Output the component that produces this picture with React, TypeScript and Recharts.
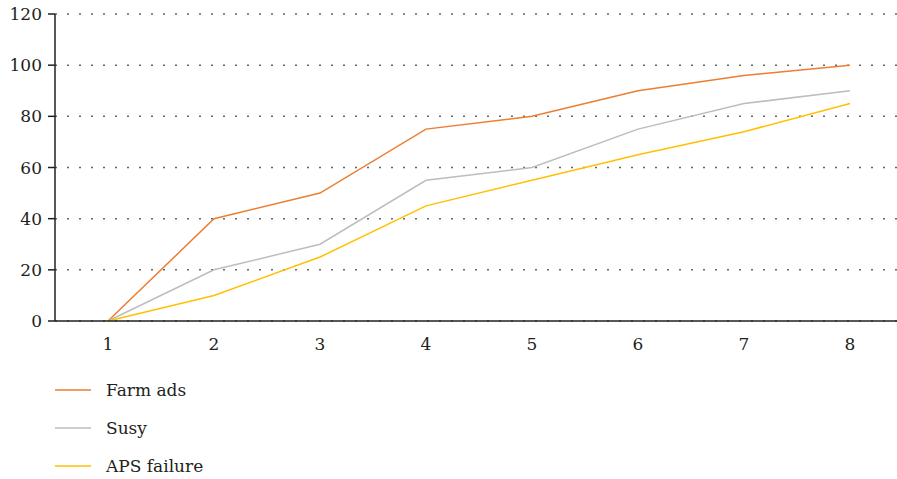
import React from 'react';
import { LineChart, Line, XAxis, YAxis, CartesianGrid, Legend } from 'recharts';

const categories = ['1', '2', '3', '4', '5', '6', '7', '8'];
const farmAds = [0, 40, 50, 75, 80, 90, 96, 100];
const susy = [0, 20, 30, 55, 60, 75, 85, 90];
const apsFailure = [0, 10, 25, 45, 55, 65, 74, 85];
const yTicks = [0, 20, 40, 60, 80, 100, 120];

const series = [
  { key: 'farmAds', name: 'Farm ads', color: '#ED7D31', values: farmAds },
  { key: 'susy', name: 'Susy', color: '#BDBDBD', values: susy },
  { key: 'apsFailure', name: 'APS failure', color: '#FFC000', values: apsFailure },
];

const data = categories.map((c, i) => {
  const row: Record<string, string | number> = { cat: c };
  series.forEach((s) => {
    row[s.key] = s.values[i];
  });
  return row;
});

const FONT = 'DejaVu Serif';
const INK = '#231F20';
const FONT_SIZE = 17;

// Vertical legend: a short coloured stroke followed by the series name.
const LegendBlock = () => (
  <div style={{ height: 128, paddingLeft: 55, paddingTop: 20, boxSizing: 'border-box', fontFamily: FONT }}>
    {series.map((s) => (
      <div key={s.key} style={{ display: 'flex', alignItems: 'center', height: 38 }}>
        <svg width={36} height={4} style={{ display: 'block' }}>
          <line x1={0} y1={2} x2={36} y2={2} stroke={s.color} strokeWidth={1.5} />
        </svg>
        <span style={{ marginLeft: 15, fontSize: FONT_SIZE, color: INK, whiteSpace: 'nowrap' }}>{s.name}</span>
      </div>
    ))}
  </div>
);

export default function App() {
  return (
    <div style={{ position: 'fixed', top: 0, left: 0, width: 897, height: 479, overflow: 'hidden', background: '#fff' }}>
      <LineChart width={897} height={479} data={data} margin={{ top: 14, right: 0, bottom: 0, left: 0 }} style={{ fontFamily: FONT }}>
        <CartesianGrid horizontal vertical={false} stroke="#666" strokeDasharray="2 10" strokeWidth={1.5} />
        <XAxis
          dataKey="cat"
          tickLine={false}
          tickSize={0}
          tickMargin={17}
          height={30}
          padding={{ left: 53, right: 47 }}
          axisLine={{ stroke: INK, strokeWidth: 1.5 }}
          tick={{ fill: INK, fontSize: FONT_SIZE, fontFamily: FONT }}
        />
        <YAxis
          width={55}
          domain={[0, 120]}
          ticks={yTicks}
          interval={0}
          tickSize={7}
          tickMargin={6}
          axisLine={{ stroke: INK, strokeWidth: 1.5 }}
          tickLine={{ stroke: INK, strokeWidth: 1.5 }}
          tick={{ fill: INK, fontSize: FONT_SIZE, fontFamily: FONT }}
        />
        <Legend verticalAlign="bottom" layout="horizontal" align="left" content={() => <LegendBlock />} />
        {series.map((s) => (
          <Line
            key={s.key}
            type="linear"
            dataKey={s.key}
            name={s.name}
            stroke={s.color}
            strokeWidth={1.5}
            dot={false}
            activeDot={false}
            isAnimationActive={false}
          />
        ))}
      </LineChart>
    </div>
  );
}
